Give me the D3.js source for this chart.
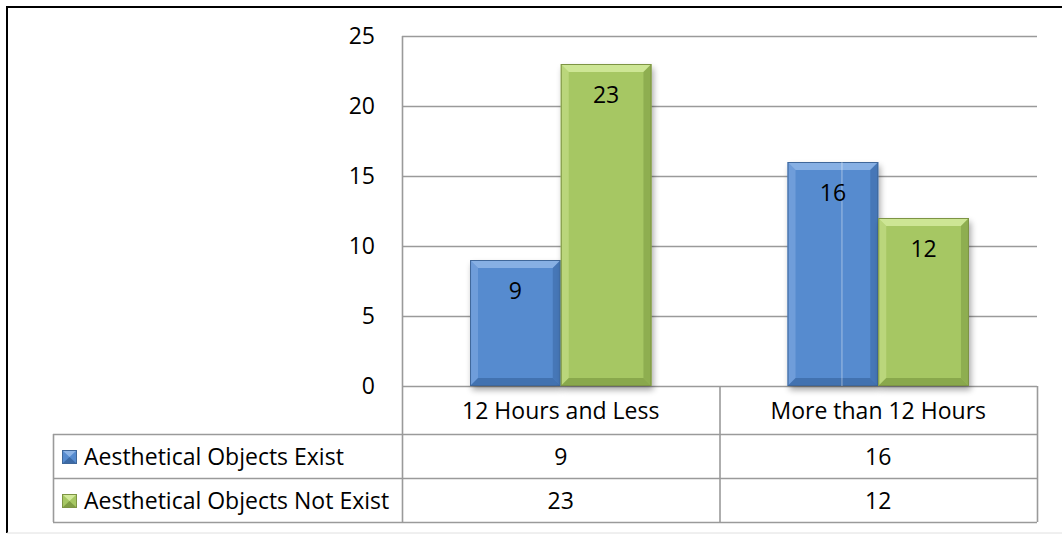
<!DOCTYPE html>
<html><head><meta charset="utf-8">
<script src="https://cdn.jsdelivr.net/npm/d3@7"></script>
<style>body{margin:0;background:#fff}svg{display:block}</style>
</head><body><svg id="c" width="1062" height="536"></svg>
<script>
const categories = ["12 Hours and Less", "More than 12 Hours"];
const seriesNames = ["Aesthetical Objects Exist", "Aesthetical Objects Not Exist"];
const existValues = [9, 16];
const notExistValues = [23, 12];
const yTicks = [0, 5, 10, 15, 20, 25];

const series = [
  {name: seriesNames[0], values: existValues, color: "#568bcf", light: "#8db4e6", dark: "#3c6aa6", edge: "#3f679a"},
  {name: seriesNames[1], values: notExistValues, color: "#a6c763", light: "#d2e99a", dark: "#7f9d44", edge: "#7d9444"}
];

const FONT = "'Open Sans', Lato, sans-serif";
const FS = 23;
const svg = d3.select("#c");
const plot = {left: 402, right: 1037, top: 36, bottom: 386};

const x0 = d3.scaleBand().domain(categories).range([plot.left, plot.right]).paddingInner(0).paddingOuter(0);
const y = d3.scaleLinear().domain([0, 25]).range([plot.bottom, plot.top]);
const groupW = x0.bandwidth() * (2 / 3.5);
const x1 = d3.scaleBand().domain(series.map(s => s.name)).range([0, groupW]);

// outer frame
svg.append("line").attr("x1", 7).attr("x2", 1062).attr("y1", 7).attr("y2", 7).attr("stroke", "#000").attr("stroke-width", 2);
svg.append("line").attr("x1", 7).attr("x2", 7).attr("y1", 6).attr("y2", 533).attr("stroke", "#000").attr("stroke-width", 2);
svg.append("line").attr("x1", 7).attr("x2", 1062).attr("y1", 533).attr("y2", 533).attr("stroke", "#e0e0e0").attr("stroke-width", 1);

// defs: shadow
const defs = svg.append("defs");
const f = defs.append("filter").attr("id", "sh").attr("x", "-20%").attr("y", "-10%").attr("width", "140%").attr("height", "130%");
f.append("feGaussianBlur").attr("in", "SourceAlpha").attr("stdDeviation", 3);
f.append("feOffset").attr("dx", 2).attr("dy", 4).attr("result", "b");
f.append("feComponentTransfer").append("feFuncA").attr("type", "linear").attr("slope", 0.35);
const fm = f.append("feMerge"); fm.append("feMergeNode"); fm.append("feMergeNode").attr("in", "SourceGraphic");

// gridlines
const grid = svg.append("g");
grid.selectAll("line").data(yTicks).join("line")
  .attr("x1", plot.left).attr("x2", plot.right)
  .attr("y1", d => Math.round(y(d)) + 0.5).attr("y2", d => Math.round(y(d)) + 0.5)
  .attr("stroke", "#9a9a9a").attr("stroke-width", 1.6);

// y axis labels
svg.append("g").selectAll("text").data(yTicks).join("text")
  .attr("x", 375).attr("y", d => y(d)).attr("dy", "0.36em")
  .attr("text-anchor", "end").attr("font-family", FONT).attr("font-size", FS).attr("fill", "#000")
  .text(d => d);

// table rows
const tTop = plot.bottom, r1 = 434, r2 = 478, r3 = 522;

// left axis line
svg.append("line").attr("x1", plot.left + 0.5).attr("x2", plot.left + 0.5)
  .attr("y1", plot.top).attr("y2", r3)
  .attr("stroke", "#9a9a9a").attr("stroke-width", 1.6);

// bars
const bev = 8;
const barsG = svg.append("g");
categories.forEach((cat, ci) => {
  const gx = x0(cat) + (x0.bandwidth() - groupW) / 2;
  series.forEach((s, si) => {
    const v = s.values[ci];
    const bx = gx + x1(s.name), bw = x1.bandwidth();
    const by = y(v), bh = y(0) - y(v);
    const g = barsG.append("g");
    g.append("rect").attr("x", bx).attr("y", by).attr("width", bw).attr("height", bh)
      .attr("fill", s.color).attr("filter", "url(#sh)");
    const L = bx, R = bx + bw, T = by, B = by + bh;
    g.append("path").attr("d", `M${L},${T}L${R},${T}L${R-bev},${T+bev}L${L+bev},${T+bev}Z`).attr("fill", s.light).attr("opacity", 0.9);
    g.append("path").attr("d", `M${L},${T}L${L+bev},${T+bev}L${L+bev},${B-bev}L${L},${B}Z`).attr("fill", s.light).attr("opacity", 0.45);
    g.append("path").attr("d", `M${R},${T}L${R},${B}L${R-bev},${B-bev}L${R-bev},${T+bev}Z`).attr("fill", s.dark).attr("opacity", 0.6);
    g.append("path").attr("d", `M${L},${B}L${R},${B}L${R-bev},${B-bev}L${L+bev},${B-bev}Z`).attr("fill", s.dark).attr("opacity", 0.75);
    g.append("rect").attr("x", bx + 0.5).attr("y", by + 0.5).attr("width", bw - 1).attr("height", bh - 1)
      .attr("fill", "none").attr("stroke", s.edge).attr("stroke-width", 1);
    if (ci === 1 && si === 0) {
      g.append("line").attr("x1", bx + bw * 0.6).attr("x2", bx + bw * 0.6).attr("y1", by).attr("y2", B)
        .attr("stroke", "#ffffff").attr("stroke-opacity", 0.45).attr("stroke-width", 1);
    }
    g.append("text").attr("x", bx + bw / 2).attr("y", by + 31).attr("dy", "0.36em")
      .attr("text-anchor", "middle").attr("font-family", FONT).attr("font-size", FS).attr("fill", "#000")
      .text(v);
  });
});

// data table
const tbl = svg.append("g").attr("stroke", "#9a9a9a").attr("stroke-width", 1.6);
tbl.append("line").attr("x1", 53).attr("x2", plot.right).attr("y1", r1 + 0.5).attr("y2", r1 + 0.5);
tbl.append("line").attr("x1", 53).attr("x2", plot.right).attr("y1", r2 + 0.5).attr("y2", r2 + 0.5);
tbl.append("line").attr("x1", 53).attr("x2", plot.right).attr("y1", r3 + 0.5).attr("y2", r3 + 0.5);
tbl.append("line").attr("x1", 53.5).attr("x2", 53.5).attr("y1", r1).attr("y2", r3);
tbl.append("line").attr("x1", x0(categories[1]) + 0.5).attr("x2", x0(categories[1]) + 0.5).attr("y1", tTop).attr("y2", r3);
tbl.append("line").attr("x1", plot.right + 0.5).attr("x2", plot.right + 0.5).attr("y1", tTop).attr("y2", r3);

// category header
svg.append("g").selectAll("text").data(categories).join("text")
  .attr("x", d => x0(d) + x0.bandwidth() / 2).attr("y", (tTop + r1) / 2 + 1).attr("dy", "0.36em")
  .attr("text-anchor", "middle").attr("font-family", FONT).attr("font-size", FS).text(d => d);

// rows
series.forEach((s, si) => {
  const cy = (si === 0 ? (r1 + r2) / 2 : (r2 + r3) / 2) + 1;
  const k = svg.append("g");
  const kx = 62, ky = cy - 7, kw = 15, kh = 14;
  k.append("rect").attr("x", kx).attr("y", ky).attr("width", kw).attr("height", kh).attr("fill", s.color);
  k.append("path").attr("d", `M${kx},${ky}L${kx+kw},${ky}L${kx+kw/2},${ky+kh/2}Z`).attr("fill", s.light);
  k.append("path").attr("d", `M${kx},${ky+kh}L${kx+kw},${ky+kh}L${kx+kw/2},${ky+kh/2}Z`).attr("fill", s.dark);
  k.append("rect").attr("x", kx + 0.5).attr("y", ky + 0.5).attr("width", kw - 1).attr("height", kh - 1).attr("fill", "none").attr("stroke", s.edge);
  svg.append("text").attr("x", 84).attr("y", cy).attr("dy", "0.36em")
    .attr("font-family", FONT).attr("font-size", FS).text(s.name);
  categories.forEach((c, ci) => {
    svg.append("text").attr("x", x0(c) + x0.bandwidth() / 2).attr("y", cy).attr("dy", "0.36em")
      .attr("text-anchor", "middle").attr("font-family", FONT).attr("font-size", FS).text(s.values[ci]);
  });
});
</script></body></html>
